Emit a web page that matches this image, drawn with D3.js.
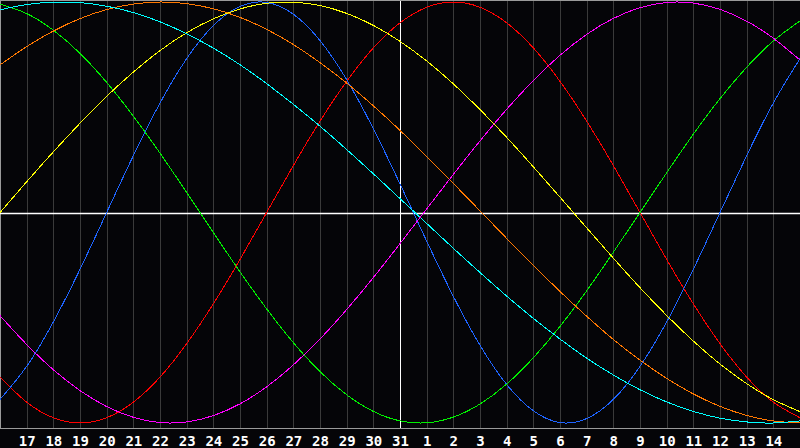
<!DOCTYPE html>
<html>
<head>
<meta charset="utf-8">
<script src="https://cdn.jsdelivr.net/npm/d3@7"></script>
<style>
  html, body { margin: 0; padding: 0; background: #050508; }
  svg { display: block; }
  .tick text { font-family: "DejaVu Sans Mono", monospace; font-weight: bold; font-size: 14px; fill: #ffffff; }
</style>
</head>
<body>
<div id="graph"></div>
<script>
// days shown on the x axis (first and last have no label)
let days = [16, 17, 18, 19, 20, 21, 22, 23, 24, 25, 26, 27, 28, 29, 30, 31,
            1, 2, 3, 4, 5, 6, 7, 8, 9, 10, 11, 12, 13, 14, 15];

// values per day (-1 .. 1)
let red = [-0.782, -0.901, -0.975, -1, -0.975, -0.901, -0.782, -0.623, -0.434, -0.223, 0,
  0.223, 0.434, 0.623, 0.782, 0.901, 0.975, 1, 0.975, 0.901, 0.782, 0.623, 0.434, 0.223, 0,
  -0.223, -0.434, -0.623, -0.782, -0.901, -0.975];
let blue = [-0.888, -0.731, -0.520, -0.270, 0, 0.270, 0.520, 0.731, 0.888, 0.979, 0.998,
  0.942, 0.817, 0.631, 0.398, 0.136, -0.136, -0.398, -0.631, -0.817, -0.942, -0.998, -0.979,
  -0.888, -0.731, -0.520, -0.270, 0, 0.270, 0.520, 0.731];
let green = [0.990, 0.945, 0.866, 0.756, 0.618, 0.458, 0.282, 0.095, -0.095, -0.282, -0.458,
  -0.618, -0.756, -0.866, -0.945, -0.990, -0.999, -0.972, -0.910, -0.815, -0.690, -0.541,
  -0.372, -0.189, 0, 0.189, 0.372, 0.541, 0.690, 0.815, 0.910];
let yellow = [0, 0.146, 0.288, 0.424, 0.552, 0.667, 0.769, 0.854, 0.920, 0.967, 0.994,
  0.999, 0.983, 0.946, 0.889, 0.813, 0.720, 0.611, 0.489, 0.357, 0.217, 0.073, -0.073,
  -0.217, -0.357, -0.489, -0.611, -0.720, -0.813, -0.889, -0.946];
let orange = [0.701, 0.788, 0.862, 0.921, 0.964, 0.990, 1.000, 0.992, 0.968, 0.927, 0.870,
  0.798, 0.712, 0.615, 0.507, 0.390, 0.266, 0.138, 0.008, -0.123, -0.251, -0.375, -0.493,
  -0.603, -0.701, -0.788, -0.862, -0.921, -0.964, -0.990, -1.000];
let cyan = [0.963, 0.988, 0.999, 0.997, 0.980, 0.950, 0.906, 0.849, 0.781, 0.702, 0.612,
  0.514, 0.410, 0.299, 0.184, 0.066, -0.052, -0.170, -0.285, -0.397, -0.503, -0.601, -0.692,
  -0.772, -0.842, -0.900, -0.945, -0.977, -0.995, -1.000, -0.990];
let magenta = [-0.490, -0.627, -0.747, -0.846, -0.922, -0.973, -0.998, -0.995, -0.965, -0.909,
  -0.828, -0.724, -0.601, -0.461, -0.309, -0.148, 0.017, 0.181, 0.340, 0.490, 0.627, 0.747,
  0.846, 0.922, 0.973, 0.998, 0.995, 0.965, 0.909, 0.828, 0.724];

let series = [
  { name: "red", color: "#ff0000", values: red },
  { name: "blue", color: "#1e64ff", values: blue },
  { name: "green", color: "#00f000", values: green },
  { name: "yellow", color: "#ffff00", values: yellow },
  { name: "orange", color: "#ff7800", values: orange },
  { name: "cyan", color: "#00ffff", values: cyan },
  { name: "magenta", color: "#ff00ff", values: magenta }
];

var svgWidth = 800;
var svgHeight = 448;
var plotBottom = 428;

var svg = d3.select("#graph")
  .append("svg")
  .attr("width", svgWidth)
  .attr("height", svgHeight);

svg.append("rect")
  .attr("width", svgWidth)
  .attr("height", svgHeight)
  .attr("fill", "#050508");

var x = d3.scaleLinear()
  .domain([0, days.length - 1])
  .range([0, svgWidth]);

var y = d3.scaleLinear()
  .domain([-1, 1])
  .range([423, 2]);

// grid lines + day labels
var tickIdx = d3.range(1, days.length - 1);
var bottomAxis = d3.axisBottom(x)
  .tickValues(tickIdx)
  .tickSize(-plotBottom)
  .tickPadding(5)
  .tickFormat(i => days[i]);

var axisG = svg.append("g")
  .attr("transform", `translate(0, ${plotBottom})`)
  .call(bottomAxis);
axisG.select(".domain").remove();
axisG.selectAll(".tick line")
  .attr("stroke", d => days[d] === 31 ? "#ffffff" : "#3a3a3a")
  .attr("shape-rendering", "crispEdges");
axisG.selectAll(".tick text")
  .attr("dy", "0.95em");

// frame
svg.append("path")
  .attr("d", `M0.5,${plotBottom + 0.5}V0.5H${svgWidth}M0,${plotBottom + 0.5}H${svgWidth}`)
  .attr("fill", "none")
  .attr("stroke", "#9a9a9a")
  .attr("shape-rendering", "crispEdges");

// zero line
svg.append("line")
  .attr("x1", 0)
  .attr("x2", svgWidth)
  .attr("y1", Math.round(y(0)) + 0.5)
  .attr("y2", Math.round(y(0)) + 0.5)
  .attr("stroke", "#ffffff")
  .attr("stroke-width", 1.5);

var drawLine = d3.line()
  .x((d, i) => x(i))
  .y(d => y(d))
  .curve(d3.curveNatural);

svg.append("g")
  .selectAll("path")
  .data(series)
  .join("path")
  .attr("d", s => drawLine(s.values))
  .attr("fill", "none")
  .attr("stroke", s => s.color)
  .attr("stroke-width", 1)
  .attr("shape-rendering", "crispEdges");
</script>
</body>
</html>
